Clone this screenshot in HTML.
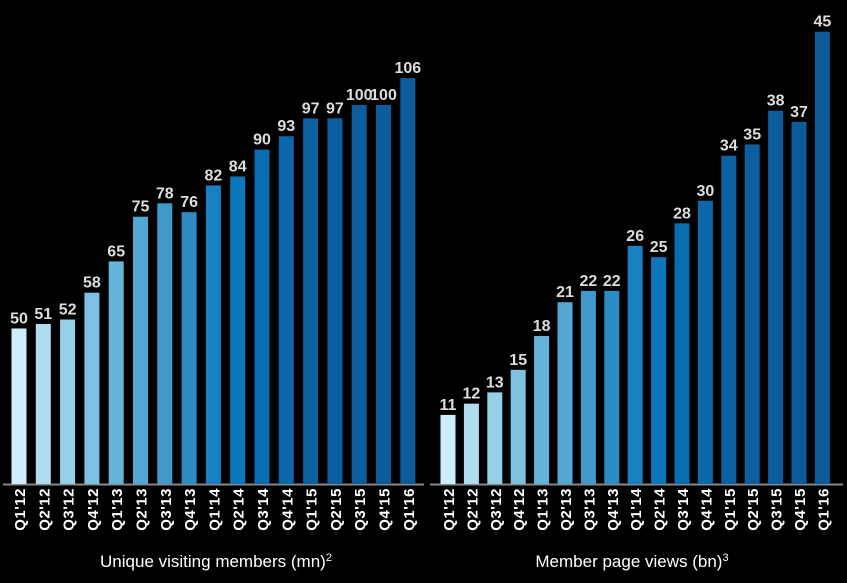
<!DOCTYPE html>
<html><head><meta charset="utf-8"><style>
html,body{margin:0;padding:0;background:#000;}
svg{display:block;font-family:"Liberation Sans",sans-serif;}
</style></head><body>
<svg id="c" width="847" height="583"></svg>
<script>
const categories=["Q1'12","Q2'12","Q3'12","Q4'12","Q1'13","Q2'13","Q3'13","Q4'13","Q1'14","Q2'14","Q3'14","Q4'14","Q1'15","Q2'15","Q3'15","Q4'15","Q1'16"];
const visitors=[50,51,52,58,65,75,78,76,82,84,90,93,97,97,100,100,106];
const pageViews=[11,12,13,15,18,21,22,22,26,25,28,30,34,35,38,37,45];
const palette=["#cdeefa","#afdcef","#96cfe8","#7dc1e1","#66b3da","#53a7d3","#4199ca","#2c8dc4","#1680c0","#0b77ba","#0a6db2","#0b66aa","#0c61a3","#0c5f9f","#0c5d9d","#0c5c9c","#0c5c9c"];
const NS="http://www.w3.org/2000/svg";
const svg=document.getElementById('c');
function mk(t,a){const e=document.createElementNS(NS,t);for(const k in a)e.setAttribute(k,a[k]);svg.appendChild(e);return e;}
const base=484;
function drawChart(key,values,x0,pitch,v0,pxPer,axisL,axisR,title,titleX,sup){
  const ax=mk('line',{x1:axisL,x2:axisR,y1:base+0.5,y2:base+0.5,stroke:'#888','stroke-width':2});
  
  
  const y=v=>base-(v-v0)*pxPer;
  values.forEach((v,i)=>{
    const cx=x0+i*pitch;
    const r=mk('rect',{x:cx-7.5,y:y(v),width:15,height:base-y(v),fill:palette[i]});
    
    
    const t=mk('text',{x:cx,y:y(v)-5,'text-anchor':'middle','font-size':16,'font-weight':'bold',fill:'#ddd'});
    t.textContent=v;
    
    
    const l=mk('text',{x:0,y:0,'text-anchor':'end','font-size':15,'font-weight':'bold',fill:'#fff','letter-spacing':'0.5',transform:`translate(${cx+6},${base+4}) rotate(-90)`});
    l.textContent=categories[i];
    
    
  });
  const tt=mk('text',{x:titleX,y:567,'text-anchor':'middle','font-size':17,fill:'#fff'});
  tt.textContent=title;
  const s=document.createElementNS(NS,'tspan');s.setAttribute('font-size','11');s.setAttribute('dy','-6');s.textContent=sup;tt.appendChild(s);
  
  
}
drawChart('members',visitors,19,24.3,15.2,4.47,3,424,'Unique visiting members (mn)',216,'2');
drawChart('pageviews',pageViews,448,23.4,4.87,11.27,430,843,'Member page views (bn)',632,'3');
</script>
</body></html>
